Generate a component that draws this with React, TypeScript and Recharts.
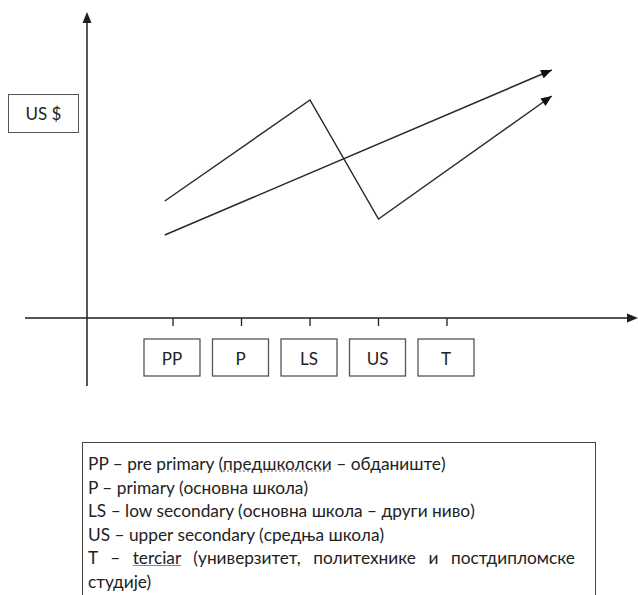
import React from 'react';
import { LineChart, Line, XAxis, YAxis, ReferenceLine } from 'recharts';

// education levels on the horizontal axis
const categories = ['PP', 'P', 'LS', 'US', 'T'];
const categoryPos = [1, 2, 3, 4, 5];

// zigzag curve (US $ by level)
const zigzagX = [0.88, 3, 4, 6.53];
const zigzagY = [117, 218, 99, 222];

// straight rising curve
const straightX = [0.88, 6.53];
const straightY = [83, 248];

const zigzagData = zigzagX.map((x, i) => ({ x, y: zigzagY[i] }));
const straightData = straightX.map((x, i) => ({ x, y: straightY[i] }));

const X_DOMAIN: [number, number] = [-1.5255, 7.7884];
const Y_DOMAIN: [number, number] = [0, 306];
const ORIGIN_X = -0.2555;

const FONT = 'Lato, "Open Sans", sans-serif';
const INK = '#1e1e1e';

function ArrowLine(p: any) {
  const { x1, y1, x2, y2 } = p;
  const a = Math.atan2(y2 - y1, x2 - x1);
  const len = 11;
  const half = 4.5;
  const bx = x2 - len * Math.cos(a);
  const by = y2 - len * Math.sin(a);
  const pts = [
    `${x2},${y2}`,
    `${bx + half * Math.sin(a)},${by - half * Math.cos(a)}`,
    `${bx - half * Math.sin(a)},${by + half * Math.cos(a)}`,
  ].join(' ');
  return (
    <g>
      <line x1={x1} y1={y1} x2={bx} y2={by} stroke={INK} strokeWidth={1.5} />
      <polygon points={pts} fill={INK} />
    </g>
  );
}

function CategoryTick(props: any) {
  const { x, y, payload } = props;
  const label = categories[categoryPos.indexOf(payload.value)];
  return (
    <g>
      <line x1={x} y1={y} x2={x} y2={y + 8} stroke={INK} strokeWidth={1.3} />
      <rect x={x - 29} y={y + 21} width={56} height={37} fill="#fff" stroke="#555" strokeWidth={1.3} />
      <text x={x - 1} y={y + 40} textAnchor="middle" dominantBaseline="central" fontSize={17} fontFamily={FONT} fill="#222">
        {label}
      </text>
    </g>
  );
}

const dotted = { textDecoration: 'underline dotted #999' } as React.CSSProperties;
const under = { textDecoration: 'underline #888' } as React.CSSProperties;

export default function App() {
  return (
    <div style={{ position: 'absolute', left: 0, top: 0, width: 638, height: 595, overflow: 'hidden', background: '#fff', fontFamily: FONT }}>
      <LineChart width={638} height={595} margin={{ top: 12, right: 0, bottom: 217, left: 0 }}>
        <defs>
          <marker id="lineHead" viewBox="0 0 12 10" refX="12" refY="5" markerWidth="12" markerHeight="9" markerUnits="userSpaceOnUse" orient="auto">
            <path d="M0,0 L12,5 L0,10 z" fill="#111" />
          </marker>
        </defs>
        <XAxis
          type="number"
          dataKey="x"
          domain={X_DOMAIN}
          ticks={categoryPos}
          allowDataOverflow
          axisLine={false}
          tickLine={false}
          tickSize={0}
          tickMargin={0}
          height={60}
          interval={0}
          tick={<CategoryTick />}
        />
        <YAxis type="number" dataKey="y" domain={Y_DOMAIN} hide allowDataOverflow />
        <ReferenceLine
          segment={[{ x: -1.1606, y: 0 }, { x: X_DOMAIN[1], y: 0 }]}
          ifOverflow="visible"
          shape={ArrowLine}
        />
        <ReferenceLine
          segment={[{ x: ORIGIN_X, y: -68 }, { x: ORIGIN_X, y: Y_DOMAIN[1] }]}
          ifOverflow="visible"
          shape={ArrowLine}
        />
        <Line
          data={zigzagData}
          dataKey="y"
          type="linear"
          stroke="#2a2a2a"
          strokeWidth={1.5}
          dot={false}
          activeDot={false}
          markerEnd="url(#lineHead)"
          isAnimationActive={false}
        />
        <Line
          data={straightData}
          dataKey="y"
          type="linear"
          stroke="#2a2a2a"
          strokeWidth={1.5}
          dot={false}
          activeDot={false}
          markerEnd="url(#lineHead)"
          isAnimationActive={false}
        />
      </LineChart>

      <div
        style={{
          position: 'absolute', left: 8, top: 94, width: 69, height: 37,
          border: '1.3px solid #555', display: 'flex', alignItems: 'center',
          justifyContent: 'center', fontSize: 17, color: '#222',
        }}
      >
        US $
      </div>

      <div
        style={{
          position: 'absolute', left: 82, top: 442, width: 514, height: 170,
          borderTop: '1.5px solid #444', borderLeft: '1.5px solid #444', borderRight: '1.5px solid #444',
          boxSizing: 'border-box', padding: '9px 20px 0 5px', fontSize: 17.3, lineHeight: '23.6px', color: '#222',
        }}
      >
        <div>PP – pre primary (<span style={dotted}>предшколски</span> – обданиште)</div>
        <div>P – primary (основна школа)</div>
        <div>LS – low secondary (основна школа – други ниво)</div>
        <div>US – upper secondary (средња школа)</div>
        <div style={{ textAlign: 'justify', textAlignLast: 'justify' }}>
          T – <span style={under}>terciar</span> (универзитет, политехнике и постдипломске
        </div>
        <div>студије)</div>
      </div>
    </div>
  );
}
